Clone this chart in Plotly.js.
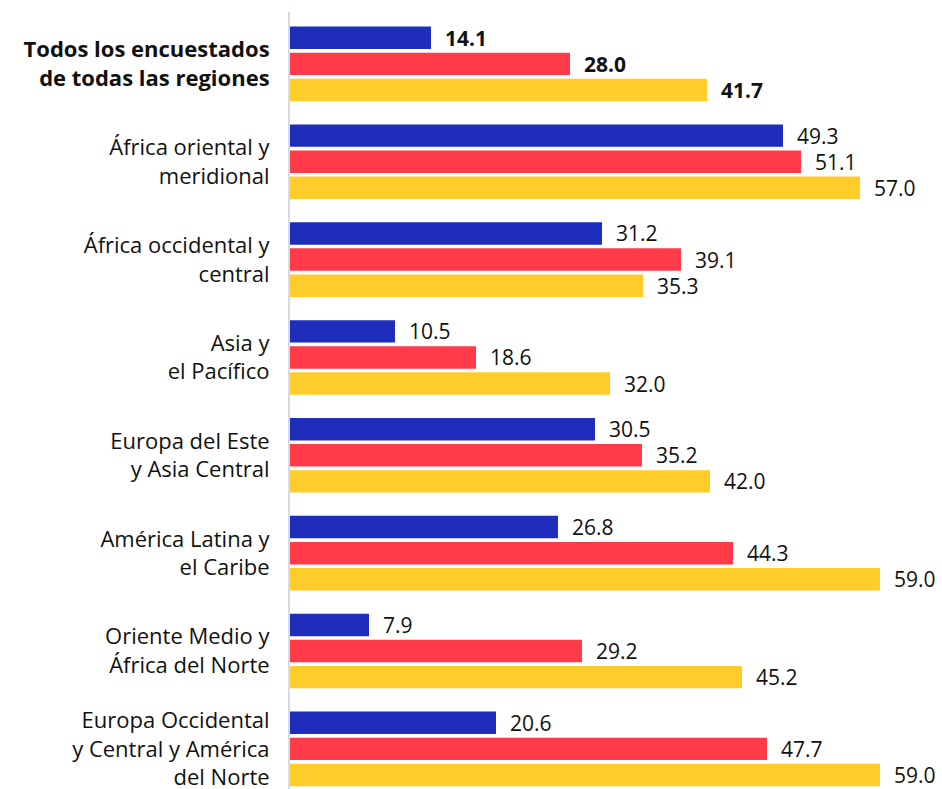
<!DOCTYPE html>
<html>
<head>
<meta charset="utf-8">
<script src="https://cdn.plot.ly/plotly-3.0.1.min.js"></script>
<style>html,body{margin:0;padding:0;background:#fff}#chart{width:942px;height:789px}</style>
</head>
<body>
<div id="chart"></div>
<script>
const categories = [
  "<b>Todos los encuestados<br>de todas las regiones</b>",
  "África oriental y<br>meridional",
  "África occidental y<br>central",
  "Asia y<br>el Pacífico",
  "Europa del Este<br>y Asia Central",
  "América Latina y<br>el Caribe",
  "Oriente Medio y<br>África del Norte",
  "Europa Occidental<br>y Central y América<br>del Norte"
];
const seriesBlue = [14.1, 49.3, 31.2, 10.5, 30.5, 26.8, 7.9, 20.6];
const seriesRed = [28.0, 51.1, 39.1, 18.6, 35.2, 44.3, 29.2, 47.7];
const seriesYellow = [41.7, 57.0, 35.3, 32.0, 42.0, 59.0, 45.2, 59.0];

const colors = ["#1f2dbd", "#ff3b4a", "#ffcc2a"];
const all = [seriesBlue, seriesRed, seriesYellow];
const FONT = "'Open Sans', sans-serif";

const traces = all.map((vals, k) => ({
  type: "bar",
  orientation: "h",
  y: categories,
  x: vals,
  marker: {color: colors[k]},
  text: vals.map((v, i) => (i === 0 ? "<b>" + v.toFixed(1) + "</b>" : v.toFixed(1))),
  textposition: "outside",
  texttemplate: "  %{text}",
  constraintext: "none",
  textfont: {family: FONT, size: 21, color: "#111"},
  cliponaxis: false,
  hoverinfo: "none"
}));

const layout = {
  width: 942,
  height: 789,
  margin: {l: 290, r: 0, t: 12, b: 0},
  barmode: "group",
  bargap: 0.2,
  bargroupgap: 0.14,
  showlegend: false,
  paper_bgcolor: "#fff",
  plot_bgcolor: "#fff",
  font: {family: FONT, size: 22, color: "#111"},
  xaxis: {range: [0, 65.2], showgrid: false, zeroline: false, showticklabels: false, showline: false, fixedrange: true},
  yaxis: {
    type: "category",
    range: [7.41, -0.53],
    showgrid: false,
    zeroline: false,
    showline: true,
    linecolor: "#d3dbe6",
    linewidth: 2,
    ticks: "outside",
    ticklen: 14,
    tickcolor: "rgba(0,0,0,0)",
    tickfont: {family: FONT, size: 22, color: "#111"}
  }
};

Plotly.newPlot("chart", traces, layout, {displayModeBar: false, staticPlot: true});
</script>
</body>
</html>
